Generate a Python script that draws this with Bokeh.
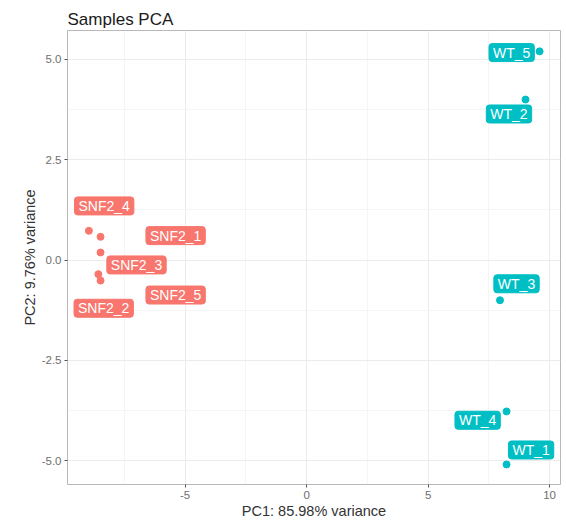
from bokeh.plotting import figure
from bokeh.models import Range1d, FixedTicker, Label
from bokeh.embed import file_html
from bokeh.resources import INLINE

# ---- data ----
samples = ["SNF2_1", "SNF2_2", "SNF2_3", "SNF2_4", "SNF2_5",
           "WT_1", "WT_2", "WT_3", "WT_4", "WT_5"]
groups = ["SNF2"] * 5 + ["WT"] * 5
pc1 = [-8.48, -8.48, -8.48, -8.96, -8.57, 8.23, 9.01, 7.96, 8.23, 9.59]
pc2 = [0.58, -0.51, 0.19, 0.73, -0.35, -5.09, 4.00, -1.00, -3.77, 5.20]
# repelled label positions (data units)
label_x = [-5.39, -8.35, -7.00, -8.33, -5.39, 9.24, 8.33, 8.64, 7.04, 8.44]
label_y = [0.61, -1.20, -0.12, 1.35, -0.87, -4.73, 3.64, -0.59, -3.99, 5.17]

group_names = ["SNF2", "WT"]
group_colors = ["#F8766D", "#00BFC4"]

x_ticks = [-5, 0, 5, 10]
x_tick_labels = ["-5", "0", "5", "10"]
x_minor = [-7.5, -2.5, 2.5, 7.5]
y_ticks = [-5, -2.5, 0, 2.5, 5]
y_tick_labels = ["-5.0", "-2.5", "0.0", "2.5", "5.0"]
y_minor = [-3.75, -1.25, 1.25, 3.75]

FONT = "Liberation Sans"
cmap = dict(zip(group_names, group_colors))
colors = [cmap[g] for g in groups]

p = figure(width=566, height=521, output_backend="svg", toolbar_location=None,
           x_range=Range1d(-9.84, 10.45), y_range=Range1d(-5.59, 5.72),
           title="Samples PCA",
           x_axis_label="PC1: 85.98% variance",
           y_axis_label="PC2: 9.76% variance",
           min_border_left=67, min_border_right=6, min_border_top=30, min_border_bottom=34)

p.background_fill_color = "white"
p.border_fill_color = "white"
p.outline_line_color = "#B8B8B8"
p.outline_line_width = 1

p.title.text_font = FONT
p.title.text_font_size = "17px"
p.title.text_font_style = "normal"
p.title.text_color = "#1a1a1a"
p.title.offset = 0
p.title.standoff = 4

p.xaxis.ticker = FixedTicker(ticks=x_ticks, minor_ticks=x_minor)
p.yaxis.ticker = FixedTicker(ticks=y_ticks, minor_ticks=y_minor)
p.xaxis.major_label_overrides = {t: l for t, l in zip(x_ticks, x_tick_labels)}
p.yaxis.major_label_overrides = {t: l for t, l in zip(y_ticks, y_tick_labels)}

for ax in (p.xaxis, p.yaxis):
    ax.axis_line_color = None
    ax.major_tick_in = 0
    ax.major_tick_out = 3
    ax.major_tick_line_color = "#555555"
    ax.minor_tick_line_color = None
    ax.major_label_text_font = FONT
    ax.major_label_text_font_size = "11.5px"
    ax.major_label_text_color = "#6e6e6e"
    ax.major_label_standoff = 2
    ax.axis_label_text_font = FONT
    ax.axis_label_text_font_size = "14.5px"
    ax.axis_label_text_font_style = "normal"
    ax.axis_label_text_color = "#333333"
    ax.axis_label_standoff = 1

for g in (p.xgrid, p.ygrid):
    g.grid_line_color = "#EBEBEB"
    g.grid_line_width = 1
    g.minor_grid_line_color = "#F2F2F2"
    g.minor_grid_line_width = 0.8

# labels (ggrepel-style boxes)
for name, lx, ly, c in zip(samples, label_x, label_y, colors):
    p.add_layout(Label(x=lx, y=ly, text=name, text_align="center", text_baseline="middle",
                       text_font=FONT, text_font_size="14px", text_color="white",
                       background_fill_color=c, background_fill_alpha=1.0,
                       border_line_color=c, border_radius=3,
                       padding=dict(left=4, right=4, top=1, bottom=1)))

p.scatter(pc1, pc2, size=7, color=colors, line_color=colors)

open("out.html", "w").write(file_html(p, INLINE))
